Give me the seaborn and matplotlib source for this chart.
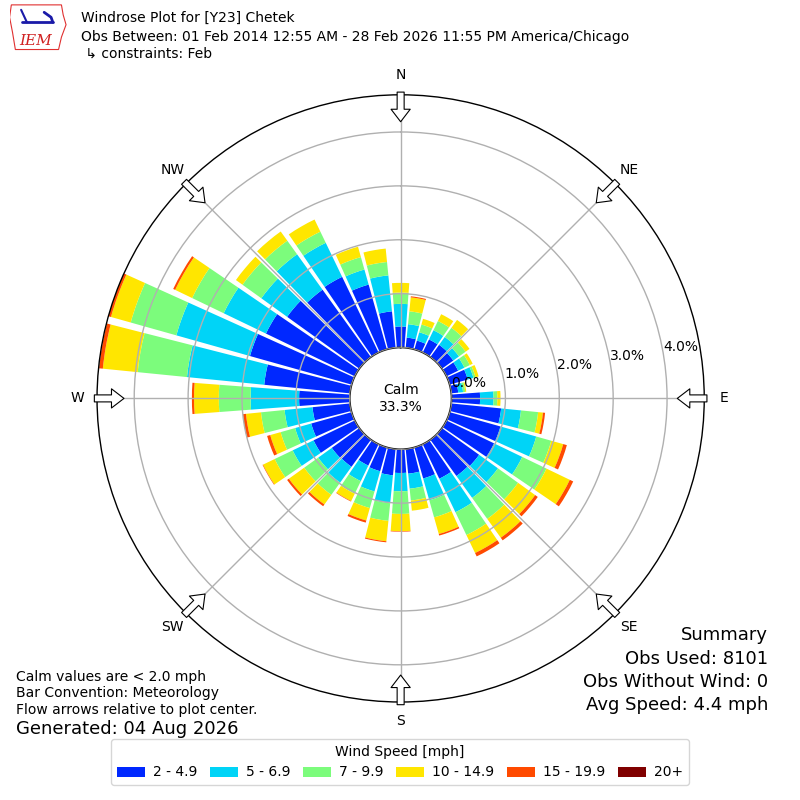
import numpy as np
import matplotlib
matplotlib.use("Agg")
import matplotlib.pyplot as plt
from matplotlib.patches import Circle, Patch, Polygon
import seaborn as sns

# wind directions (deg, meteorological) and speed bins
directions = list(range(0, 360, 10))
speed_bins = ["2 - 4.9", "5 - 6.9", "7 - 9.9", "10 - 14.9", "15 - 19.9", "20+"]
bin_colors = ["#0028ff", "#00d4f7", "#7cfc7c", "#ffe600", "#ff4a00", "#800000"]

# percent of observations per direction, one list per speed bin
pct_2 = [0.39, 0.19, 0.17, 0.27, 0.28, 0.26, 0.24, 0.35, 0.13, 0.53, 0.93, 0.98,
         0.98, 0.85, 0.83, 0.71, 0.60, 0.46, 0.44, 0.49, 0.46, 0.44, 0.62, 0.63,
         0.85, 0.78, 0.70, 0.94, 1.60, 1.96, 1.83, 1.65, 1.54, 1.56, 1.25, 0.68]
pct_5 = [0.42, 0.25, 0.16, 0.19, 0.18, 0.13, 0.13, 0.11, 0.09, 0.25, 0.37, 0.69,
         0.58, 0.43, 0.50, 0.69, 0.42, 0.28, 0.34, 0.52, 0.39, 0.32, 0.36, 0.31,
         0.43, 0.31, 0.52, 0.90, 1.44, 1.42, 0.87, 0.59, 0.81, 0.70, 0.29, 0.67]
pct_7 = [0.21, 0.24, 0.15, 0.19, 0.21, 0.15, 0.11, 0.04, 0.04, 0.07, 0.32, 0.29,
         0.50, 0.46, 0.48, 0.47, 0.33, 0.22, 0.42, 0.33, 0.32, 0.26, 0.28, 0.32,
         0.37, 0.28, 0.44, 0.59, 0.92, 0.88, 0.65, 0.43, 0.31, 0.23, 0.24, 0.25]
pct_10 = [0.18, 0.26, 0.11, 0.14, 0.18, 0.09, 0.06, 0.06, 0.02, 0.06, 0.09, 0.23,
          0.48, 0.39, 0.43, 0.37, 0.32, 0.19, 0.32, 0.38, 0.24, 0.15, 0.22, 0.35,
          0.24, 0.20, 0.28, 0.46, 0.65, 0.38, 0.35, 0.15, 0.21, 0.25, 0.20, 0.25]
pct_15 = [0.00, 0.02, 0.00, 0.00, 0.00, 0.00, 0.00, 0.00, 0.00, 0.00, 0.04, 0.07,
          0.07, 0.06, 0.06, 0.07, 0.03, 0.00, 0.01, 0.02, 0.04, 0.01, 0.04, 0.04,
          0.01, 0.06, 0.06, 0.04, 0.07, 0.05, 0.04, 0.00, 0.00, 0.00, 0.00, 0.00]
pct_20 = [0.0] * 36

calm_pct = 33.3
obs_used = 8101
obs_no_wind = 0
avg_speed = 4.4

sns.set_theme(style="white")
plt.rcParams["font.family"] = ["DejaVu Sans"]
plt.rcParams["text.color"] = "black"
plt.rcParams["xtick.color"] = "black"
plt.rcParams["ytick.color"] = "black"

fig = plt.figure(figsize=(8, 8), dpi=100)
ax = fig.add_axes([0.1213, 0.1225, 0.759, 0.759], projection="polar")
ax.set_theta_zero_location("N")
ax.set_theta_direction(-1)
ax.set_axisbelow(False)

series = [pct_2, pct_5, pct_7, pct_10, pct_15, pct_20]
theta = np.radians(directions)
width = np.radians(10) * 0.86
bottom = np.zeros(len(directions))
for vals, col in zip(series, bin_colors):
    ax.bar(theta, vals, width=width, bottom=bottom, color=col, linewidth=0, zorder=2)
    bottom = bottom + np.array(vals)

rmax = bottom.max()
rorigin = -0.944
ax.set_rorigin(rorigin)
ax.set_ylim(0, rmax)

ax.set_yticks([0, 1, 2, 3, 4])
ax.set_yticklabels(["0.0%", "1.0%", "2.0%", "3.0%", "4.0%"], fontsize=10)
ax.set_rlabel_position(80.5)
ax.set_xticks(np.radians(range(0, 360, 45)))
ax.set_xticklabels(["N", "NE", "E", "SE", "S", "SW", "W", "NW"], fontsize=10)
ax.tick_params(axis="x", pad=1, colors="black")
ax.tick_params(axis="y", colors="black")
ax.grid(True, color="#b0b0b0", linewidth=1.0)
ax.spines["polar"].set_color("black")
ax.spines["polar"].set_linewidth(1.0)

# calm circle in the middle
frac = (0 - rorigin) / (rmax - rorigin) * 0.5
ax.add_patch(Circle((0.5, 0.5), frac, transform=ax.transAxes, facecolor="white",
                    edgecolor="black", linewidth=1.0, zorder=2.2))
ax.text(0.5, 0.5, "Calm\n%.1f%%" % calm_pct, transform=ax.transAxes, ha="center",
        va="center", fontsize=10, zorder=5)

# flow arrows at the compass points
for d in range(0, 360, 45):
    t = np.radians(d)
    ax.annotate("", xy=(t, rmax - 0.5), xytext=(t, rmax + 0.05),
                arrowprops=dict(arrowstyle="simple,head_length=0.75,head_width=1.15,tail_width=0.42",
                                fc="white", ec="black", lw=0.8, mutation_scale=12,
                                shrinkA=0, shrinkB=0),
                annotation_clip=False, zorder=6)

# header
fig.text(0.101, 1 - 18 / 800, "Windrose Plot for [Y23] Chetek", fontsize=10, va="center")
fig.text(0.101, 1 - 37 / 800,
         "Obs Between: 01 Feb 2014 12:55 AM - 28 Feb 2026 11:55 PM America/Chicago",
         fontsize=10, va="center")
fig.text(0.101, 1 - 54 / 800, " \u21b3 constraints: Feb", fontsize=10, va="center")

# logo
lax = fig.add_axes([0.012, 0.935, 0.072, 0.062])
lax.set_xlim(0, 1)
lax.set_ylim(0, 1)
lax.axis("off")
lax.add_patch(Polygon([[0.03, 0.95], [0.9, 0.95], [0.93, 0.75], [0.98, 0.55], [0.9, 0.3],
                       [0.85, 0.05], [0.1, 0.05], [0.05, 0.4], [0.0, 0.7]],
                      closed=True, fill=False, edgecolor="#e03030", linewidth=0.8))
lax.plot([0.22, 0.75], [0.6, 0.6], color="#1a1aa8", linewidth=2)
lax.plot([0.2, 0.3], [0.85, 0.6], color="#1a1aa8", linewidth=1.5)
lax.plot([0.6, 0.72, 0.75], [0.8, 0.7, 0.6], color="#1a1aa8", linewidth=2)
lax.text(0.45, 0.22, "IEM", color="#d02020", fontsize=11, style="italic",
         family="DejaVu Serif", ha="center", va="center")

# notes
fig.text(0.02, 1 - 677 / 800, "Calm values are < 2.0 mph", fontsize=10, va="center")
fig.text(0.02, 1 - 693 / 800, "Bar Convention: Meteorology", fontsize=10, va="center")
fig.text(0.02, 1 - 710 / 800, "Flow arrows relative to plot center.", fontsize=10, va="center")
fig.text(0.02, 1 - 729 / 800, "Generated: 04 Aug 2026", fontsize=13, va="center")

fig.text(0.96, 1 - 635 / 800, "Summary", fontsize=13, ha="right", va="center")
fig.text(0.96, 1 - 659 / 800, "Obs Used: %d" % obs_used, fontsize=13, ha="right", va="center")
fig.text(0.96, 1 - 682 / 800, "Obs Without Wind: %d" % obs_no_wind, fontsize=13,
         ha="right", va="center")
fig.text(0.96, 1 - 705 / 800, "Avg Speed: %.1f mph" % avg_speed, fontsize=13,
         ha="right", va="center")

handles = [Patch(facecolor=c, edgecolor="none", label=l) for c, l in zip(bin_colors, speed_bins)]
fig.legend(handles=handles, loc="lower center", bbox_to_anchor=(0.5, 0.01), ncol=6,
           title="Wind Speed [mph]", fontsize=10, title_fontsize=10, frameon=True,
           handlelength=2.0, handletextpad=0.6, columnspacing=0.9)

fig.savefig("out.png", dpi=100)
